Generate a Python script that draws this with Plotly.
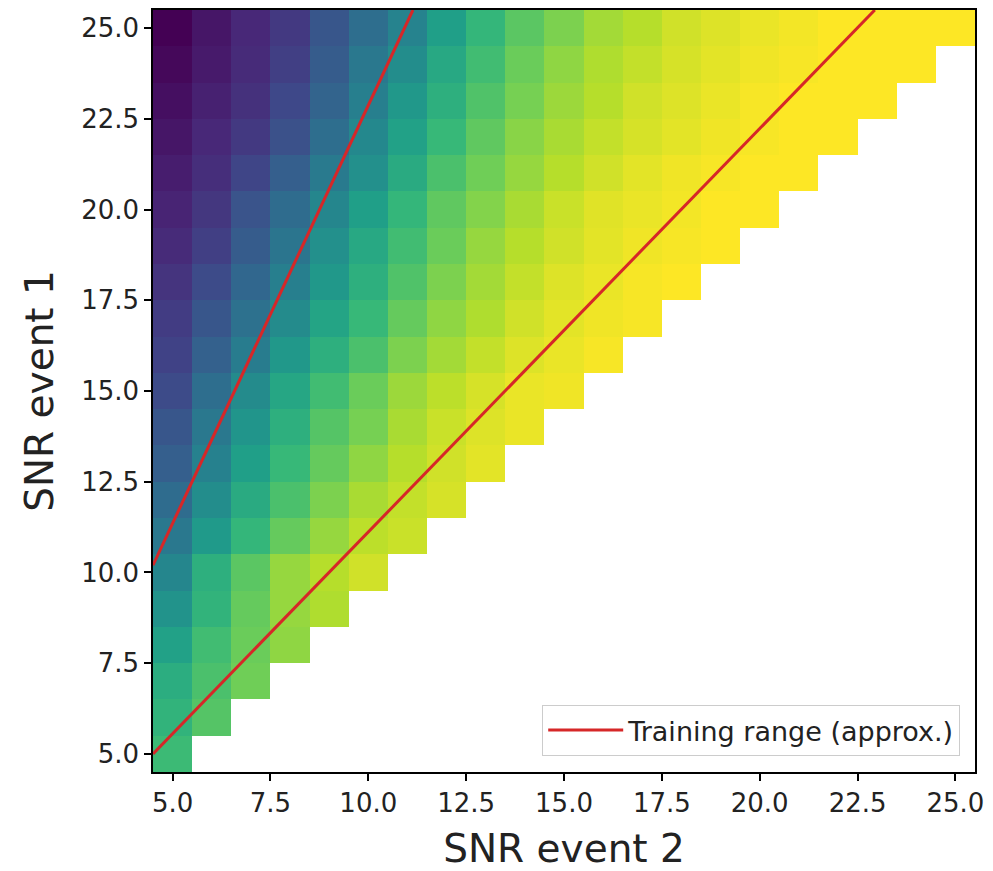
import plotly.graph_objects as go

# SNR grid values
snr_event2 = list(range(5, 26))   # x axis
snr_event1 = list(range(5, 26))   # y axis

# Estimated colour values (viridis 0..1), one row per SNR event 1 (5..25),
# columns SNR event 2 = 5..SNR event 1 (cells with x > y are empty)
rows = {
    5:  [0.68],
    6:  [0.65, 0.73],
    7:  [0.62, 0.71, 0.78],
    8:  [0.57, 0.69, 0.77, 0.83],
    9:  [0.51, 0.65, 0.76, 0.84, 0.88],
    10: [0.46, 0.63, 0.74, 0.84, 0.89, 0.93],
    11: [0.40, 0.54, 0.66, 0.76, 0.84, 0.90, 0.92],
    12: [0.35, 0.49, 0.61, 0.71, 0.80, 0.87, 0.91, 0.94],
    13: [0.30, 0.44, 0.56, 0.67, 0.76, 0.83, 0.89, 0.93, 0.96],
    14: [0.27, 0.40, 0.52, 0.63, 0.73, 0.79, 0.87, 0.92, 0.95, 0.97],
    15: [0.23, 0.36, 0.48, 0.59, 0.69, 0.77, 0.85, 0.90, 0.94, 0.97, 0.98],
    16: [0.20, 0.31, 0.42, 0.53, 0.63, 0.71, 0.80, 0.86, 0.91, 0.95, 0.97, 0.99],
    17: [0.18, 0.27, 0.37, 0.48, 0.58, 0.67, 0.76, 0.83, 0.88, 0.93, 0.96, 0.98, 0.99],
    18: [0.15, 0.23, 0.33, 0.43, 0.53, 0.63, 0.72, 0.80, 0.86, 0.91, 0.95, 0.97, 0.99, 1.00],
    19: [0.12, 0.19, 0.29, 0.39, 0.50, 0.60, 0.69, 0.77, 0.84, 0.89, 0.93, 0.96, 0.98, 0.99, 1.00],
    20: [0.10, 0.16, 0.26, 0.35, 0.46, 0.56, 0.66, 0.75, 0.81, 0.87, 0.92, 0.955, 0.97, 0.985, 1.00, 1.00],
    21: [0.08, 0.13, 0.21, 0.30, 0.41, 0.50, 0.61, 0.71, 0.78, 0.84, 0.89, 0.93, 0.96, 0.98, 0.99, 1.00, 1.00],
    22: [0.06, 0.11, 0.17, 0.25, 0.36, 0.47, 0.57, 0.67, 0.75, 0.82, 0.87, 0.91, 0.94, 0.96, 0.98, 0.99, 1.00, 1.00],
    23: [0.04, 0.09, 0.14, 0.22, 0.32, 0.43, 0.53, 0.63, 0.72, 0.79, 0.85, 0.89, 0.93, 0.95, 0.97, 0.99, 1.00, 1.00, 1.00],
    24: [0.02, 0.07, 0.12, 0.19, 0.29, 0.40, 0.49, 0.60, 0.69, 0.77, 0.83, 0.88, 0.91, 0.94, 0.96, 0.98, 0.99, 1.00, 1.00, 1.00],
    25: [0.00, 0.06, 0.11, 0.17, 0.27, 0.36, 0.45, 0.56, 0.66, 0.74, 0.80, 0.86, 0.89, 0.93, 0.95, 0.97, 0.985, 1.00, 1.00, 1.00, 1.00],
}

# Training range boundary lines (approximate endpoints in data units)
upper_line_x = [4.5, 11.14]
upper_line_y = [10.2, 25.5]
lower_line_x = [4.5, 22.94]
lower_line_y = [5.0, 25.5]

tick_vals = [5.0, 7.5, 10.0, 12.5, 15.0, 17.5, 20.0, 22.5, 25.0]
tick_text = ["5.0", "7.5", "10.0", "12.5", "15.0", "17.5", "20.0", "22.5", "25.0"]

z = []
for y in snr_event1:
    r = rows[y]
    z.append(r + [None] * (len(snr_event2) - len(r)))

fig = go.Figure()
fig.add_trace(go.Heatmap(
    x=snr_event2, y=snr_event1, z=z,
    colorscale="Viridis", zmin=0, zmax=1,
    showscale=False, hoverongaps=False,
))
line_color = "#d62728"
fig.add_trace(go.Scatter(
    x=upper_line_x, y=upper_line_y, mode="lines",
    line=dict(color=line_color, width=3),
    name="Training range (approx.)", showlegend=True,
))
fig.add_trace(go.Scatter(
    x=lower_line_x, y=lower_line_y, mode="lines",
    line=dict(color=line_color, width=3),
    name="Training range (approx.)", showlegend=False,
))

axis_common = dict(
    range=[4.5, 25.5],
    tickmode="array", tickvals=tick_vals, ticktext=tick_text,
    ticks="outside", ticklen=7, tickwidth=1.5, tickcolor="black",
    showline=True, linecolor="black", linewidth=1.5, mirror=True,
    showgrid=False, zeroline=False,
    tickfont=dict(family="DejaVu Sans", size=26, color="#222"),
)

fig.update_layout(
    width=993, height=871,
    margin=dict(l=153, r=18, t=8, b=98),
    paper_bgcolor="white", plot_bgcolor="white",
    xaxis=dict(axis_common, title=dict(text="SNR event 2",
               font=dict(family="DejaVu Sans", size=39, color="#222"), standoff=18)),
    yaxis=dict(axis_common, title=dict(text="SNR event 1",
               font=dict(family="DejaVu Sans", size=39, color="#222"), standoff=16)),
    legend=dict(
        x=0.982, y=0.021, xanchor="right", yanchor="bottom",
        bgcolor="rgba(255,255,255,0.85)", bordercolor="#cccccc", borderwidth=1,
        font=dict(family="DejaVu Sans", size=27, color="#222"),
        itemwidth=75,
    ),
    showlegend=True,
)

fig.write_html("out.html")
